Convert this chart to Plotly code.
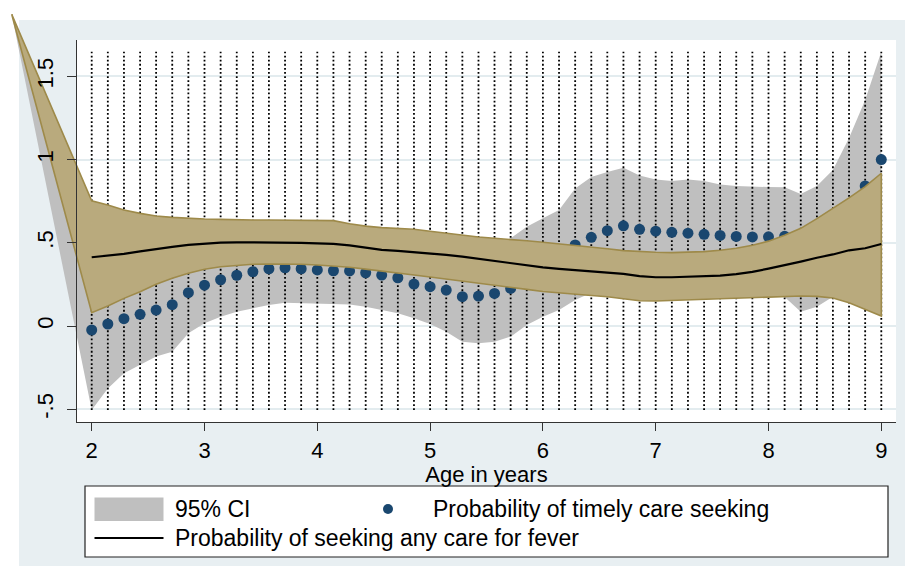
import plotly.graph_objects as go

# ---------------- data ----------------
ages = [2.000, 2.143, 2.286, 2.429, 2.571, 2.714, 2.857, 3.000, 3.143, 3.286,
        3.429, 3.571, 3.714, 3.857, 4.000, 4.143, 4.286, 4.429, 4.571, 4.714,
        4.857, 5.000, 5.143, 5.286, 5.429, 5.571, 5.714, 5.857, 6.000, 6.143,
        6.286, 6.429, 6.571, 6.714, 6.857, 7.000, 7.143, 7.286, 7.429, 7.571,
        7.714, 7.857, 8.000, 8.143, 8.286, 8.429, 8.571, 8.714, 8.857, 9.000]

timely = [-0.024, 0.012, 0.044, 0.070, 0.096, 0.128, 0.200, 0.245, 0.278, 0.305,
          0.326, 0.344, 0.350, 0.344, 0.337, 0.332, 0.331, 0.320, 0.306, 0.290,
          0.252, 0.236, 0.216, 0.176, 0.180, 0.196, 0.226, 0.300, 0.370, 0.430,
          0.487, 0.533, 0.573, 0.602, 0.581, 0.570, 0.563, 0.558, 0.551, 0.544,
          0.538, 0.535, 0.536, 0.539, 0.530, 0.580, 0.650, 0.720, 0.842, 1.000]

ci_hi = [0.457, 0.399, 0.372, 0.374, 0.376, 0.410, 0.444, 0.474, 0.500, 0.524,
         0.546, 0.562, 0.560, 0.548, 0.538, 0.532, 0.533, 0.524, 0.516, 0.504,
         0.458, 0.460, 0.466, 0.446, 0.464, 0.486, 0.527, 0.597, 0.647, 0.697,
         0.827, 0.895, 0.925, 0.951, 0.904, 0.880, 0.871, 0.880, 0.871, 0.850,
         0.841, 0.837, 0.835, 0.834, 0.793, 0.841, 0.938, 1.130, 1.358, 1.648]

ci_lo = [-0.505, -0.375, -0.284, -0.234, -0.184, -0.154, -0.044, 0.016, 0.056, 0.086,
         0.106, 0.126, 0.140, 0.140, 0.136, 0.132, 0.129, 0.116, 0.096, 0.076,
         0.046, 0.012, -0.034, -0.094, -0.104, -0.094, -0.064, 0.006, 0.056, 0.096,
         0.156, 0.200, 0.236, 0.253, 0.258, 0.260, 0.255, 0.236, 0.231, 0.238,
         0.235, 0.233, 0.237, 0.175, 0.086, 0.116, 0.176, 0.310, 0.326, 0.352]

anycare = [0.413, 0.423, 0.433, 0.448, 0.463, 0.475, 0.487, 0.495, 0.501, 0.503,
           0.503, 0.503, 0.503, 0.500, 0.497, 0.493, 0.484, 0.470, 0.458, 0.452,
           0.445, 0.437, 0.427, 0.417, 0.404, 0.392, 0.378, 0.363, 0.352, 0.343,
           0.336, 0.328, 0.320, 0.313, 0.300, 0.293, 0.293, 0.295, 0.297, 0.303,
           0.312, 0.325, 0.345, 0.365, 0.387, 0.410, 0.430, 0.455, 0.467, 0.493]

any_hi = [0.752, 0.727, 0.697, 0.677, 0.661, 0.653, 0.647, 0.643, 0.641, 0.638,
          0.637, 0.637, 0.637, 0.637, 0.637, 0.633, 0.614, 0.600, 0.591, 0.586,
          0.581, 0.569, 0.557, 0.546, 0.535, 0.527, 0.521, 0.512, 0.503, 0.494,
          0.484, 0.474, 0.464, 0.453, 0.447, 0.443, 0.441, 0.443, 0.447, 0.455,
          0.467, 0.485, 0.510, 0.545, 0.587, 0.645, 0.705, 0.770, 0.837, 0.918]

any_lo = [0.080, 0.120, 0.166, 0.206, 0.251, 0.287, 0.317, 0.341, 0.356, 0.365,
          0.371, 0.373, 0.373, 0.371, 0.367, 0.361, 0.353, 0.342, 0.332, 0.319,
          0.306, 0.294, 0.281, 0.269, 0.257, 0.245, 0.233, 0.220, 0.207, 0.198,
          0.191, 0.183, 0.176, 0.165, 0.152, 0.150, 0.152, 0.156, 0.160, 0.163,
          0.166, 0.169, 0.172, 0.177, 0.180, 0.178, 0.168, 0.140, 0.098, 0.060]

# stray first vertex of both CI polygons (drawn outside the plot region)
apex_x = [1.291]
apex_y = [1.873]

x_ticks = [2, 3, 4, 5, 6, 7, 8, 9]
y_ticks = [-0.5, 0, 0.5, 1, 1.5]
y_ticktext = ["-.5", "0", ".5", "1", "1.5"]

legend_labels = ["95% CI", "Probability of timely care seeking",
                 "Probability of seeking any care for fever"]
x_title = "Age in years"

# ---------------- styling ----------------
W, H = 905, 566
BG = "#E8EFF2"
GRAY = "#BFBFBF"
TAN = "#B9AA7D"
OLIVE = "#9E8A4A"
NAVY = "#1A476F"
AXIS = "#333333"
FONT = "Liberation Sans, Arial, Helvetica, sans-serif"

# pixel <-> data mapping (shared by all axis pairs)
X_PX0, X_PPU = 91.7, 112.8     # pixel of x=2, pixels per year
Y_PX0, Y_PPU = 326.0, 166.4    # pixel of y=0, pixels per unit


def xf(px):
    return 2 + (px - X_PX0) / X_PPU


def yf(py):
    return (Y_PX0 - py) / Y_PPU


def xp(px):
    return px / W


def yp(py):
    return 1 - py / H


PL, PR, PT, PB = 77, 896, 40, 422   # plot region in pixels

fig = go.Figure()

# anchor trace: bottom subplot (gridlines only)
fig.add_trace(go.Scatter(x=[None], y=[None], xaxis="x", yaxis="y",
                         showlegend=False, hoverinfo="skip"))

# gray 95% CI band for the scatter
fig.add_trace(go.Scatter(
    x=apex_x + ages + ages[::-1] + apex_x,
    y=apex_y + ci_hi + ci_lo[::-1] + apex_y,
    fill="toself", fillcolor=GRAY, mode="lines", line=dict(width=0, color=GRAY),
    xaxis="x2", yaxis="y2", showlegend=False, hoverinfo="skip"))

# dotted vertical lines at each age
lo, hi = min(ci_lo), max(ci_hi)
vx, vy = [], []
for a in ages:
    vx += [a, a, None]
    vy += [lo, hi, None]
fig.add_trace(go.Scatter(
    x=vx, y=vy, mode="lines", line=dict(color="black", width=1.8, dash="1.8px,2.3px"),
    xaxis="x2", yaxis="y2", showlegend=False, hoverinfo="skip"))

# timely care seeking points
fig.add_trace(go.Scatter(
    x=ages, y=timely, mode="markers", marker=dict(color=NAVY, size=11, line=dict(width=0)),
    xaxis="x2", yaxis="y2", showlegend=False))

# tan CI band for the fitted line
fig.add_trace(go.Scatter(
    x=apex_x + ages + ages[::-1] + apex_x,
    y=apex_y + any_hi + any_lo[::-1] + apex_y,
    fill="toself", fillcolor=TAN, mode="lines", line=dict(width=1.6, color=OLIVE),
    xaxis="x2", yaxis="y2", showlegend=False, hoverinfo="skip"))

# fitted line
fig.add_trace(go.Scatter(
    x=ages, y=anycare, mode="lines", line=dict(color="black", width=2.2),
    xaxis="x2", yaxis="y2", showlegend=False))

# anchor trace: top subplot (axis lines, ticks, labels)
fig.add_trace(go.Scatter(x=[None], y=[None], xaxis="x3", yaxis="y3",
                         showlegend=False, hoverinfo="skip"))

shapes = [
    dict(type="rect", xref="paper", yref="paper", x0=xp(19), x1=1, y0=0, y1=yp(20),
         fillcolor=BG, line=dict(width=0), layer="below"),
    dict(type="rect", xref="paper", yref="paper", x0=xp(PL), x1=xp(PR), y0=yp(PB), y1=yp(PT),
         fillcolor="white", line=dict(width=0), layer="below"),
    # legend box
    dict(type="rect", xref="paper", yref="paper", x0=xp(85), x1=xp(888), y0=yp(557), y1=yp(486),
         fillcolor="white", line=dict(width=1.2, color="#222"), layer="above"),
    # gray swatch
    dict(type="rect", xref="paper", yref="paper", x0=xp(94.5), x1=xp(163.5), y0=yp(521), y1=yp(497.5),
         fillcolor=GRAY, line=dict(width=0), layer="above"),
    # marker swatch
    dict(type="circle", xref="paper", yref="paper", x0=xp(383), x1=xp(393), y0=yp(514), y1=yp(504),
         fillcolor=NAVY, line=dict(width=0), layer="above"),
    # line swatch
    dict(type="line", xref="paper", yref="paper", x0=xp(94.5), x1=xp(163.5), y0=yp(538), y1=yp(538),
         line=dict(width=2, color="black"), layer="above"),
]

annotations = [
    dict(text=legend_labels[0], x=xp(173), y=yp(509), xref="paper", yref="paper",
         xanchor="left", yanchor="middle", showarrow=False, font=dict(size=23, color="black", family=FONT)),
    dict(text=legend_labels[1], x=xp(431), y=yp(509), xref="paper", yref="paper",
         xanchor="left", yanchor="middle", showarrow=False, font=dict(size=23, color="black", family=FONT)),
    dict(text=legend_labels[2], x=xp(173), y=yp(538), xref="paper", yref="paper",
         xanchor="left", yanchor="middle", showarrow=False, font=dict(size=23, color="black", family=FONT)),
]

xdom, xrng = [xp(PL), xp(PR)], [xf(PL), xf(PR)]
ydom, yrng = [yp(PB), yp(PT)], [yf(PB), yf(PT)]

fig.update_layout(
    width=W, height=H, margin=dict(l=0, r=0, t=0, b=0, pad=0),
    paper_bgcolor="white", plot_bgcolor="rgba(0,0,0,0)",
    font=dict(family=FONT, color="black"),
    showlegend=False,
    shapes=shapes, annotations=annotations,
    # bottom layer: horizontal gridlines
    xaxis=dict(domain=xdom, range=xrng, anchor="y", showgrid=False, zeroline=False,
               showticklabels=False, ticks="", showline=False, automargin=False, fixedrange=True),
    yaxis=dict(domain=ydom, range=yrng, anchor="x", tickvals=y_ticks,
               showgrid=True, gridcolor="#E3ECEF", gridwidth=1.5, zeroline=False,
               showticklabels=False, ticks="", showline=False, automargin=False, fixedrange=True),
    # middle layer: data, spanning the whole figure so the stray polygon vertex is not clipped
    xaxis2=dict(domain=[0, 1], range=[xf(0), xf(W)], anchor="y2", visible=False, fixedrange=True),
    yaxis2=dict(domain=[0, 1], range=[yf(H), yf(0)], anchor="x2", visible=False, fixedrange=True),
    # top layer: axis lines, ticks, labels
    xaxis3=dict(domain=xdom, range=xrng, anchor="y3",
                tickvals=x_ticks, ticks="outside", ticklen=8, tickwidth=1.2, tickcolor=AXIS,
                showline=True, linecolor=AXIS, linewidth=1.2, showgrid=False, zeroline=False,
                tickfont=dict(size=22, family=FONT), automargin=False, fixedrange=True,
                title=dict(text=x_title, font=dict(size=22, family=FONT), standoff=0)),
    yaxis3=dict(domain=ydom, range=yrng, anchor="x3",
                tickvals=y_ticks, ticktext=y_ticktext, tickangle=-90,
                ticks="outside", ticklen=9, tickwidth=1.2, tickcolor=AXIS,
                showline=True, linecolor=AXIS, linewidth=1.2,
                showgrid=False, zeroline=False,
                tickfont=dict(size=22, family=FONT), automargin=False, fixedrange=True,
                ticklabelstandoff=5),
)

fig.write_html(
    "out.html",
    config={"displayModeBar": False},
    post_script="document.body.style.margin='0';document.body.style.padding='0';"
                "document.body.style.overflow='hidden';",
)
